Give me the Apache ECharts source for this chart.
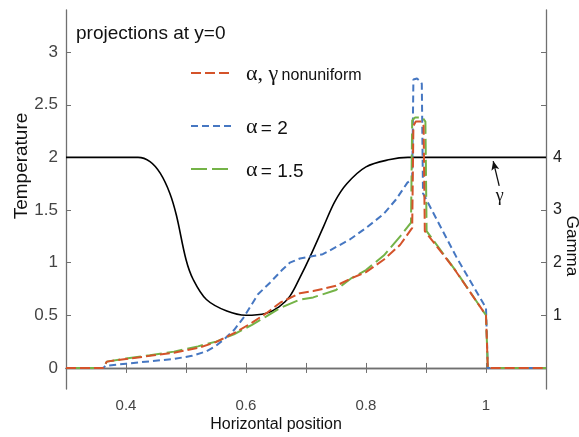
<!DOCTYPE html>
<html>
<head>
<meta charset="utf-8">
<script src="https://cdn.jsdelivr.net/npm/echarts@6/dist/echarts.min.js"></script>
<style>html,body{margin:0;padding:0;background:#fff}#c{width:579px;height:437px}</style>
</head>
<body>
<div id="c"></div>
<script>
// ---- data ----
const xTickValues = [0.4, 0.5, 0.6, 0.7, 0.8, 0.9, 1.0];
const xLabelValues = [0.4, 0.6, 0.8, 1.0];
const tTickValues = [0, 0.5, 1, 1.5, 2, 2.5, 3];
const gammaTickValues = [0, 1, 2, 3, 4, 5, 6];
const gammaLabelValues = [1, 2, 3, 4];

const seriesNames = ['α, γ nonuniform', 'α = 2', 'α = 1.5', 'γ'];

const xRed = [0.30, 0.362, 0.368, 0.40, 0.44, 0.48, 0.52, 0.55, 0.58, 0.61, 0.634, 0.657, 0.69, 0.712, 0.75, 0.775, 0.80, 0.83, 0.857, 0.877, 0.879, 0.883, 0.893, 0.896, 0.898, 0.946, 1.0, 1.003, 1.1];
const tRed = [0, 0, 0.06, 0.085, 0.115, 0.145, 0.19, 0.245, 0.33, 0.43, 0.52, 0.62, 0.71, 0.73, 0.78, 0.85, 0.91, 1.03, 1.17, 1.33, 2.30, 2.34, 2.34, 2.30, 1.30, 0.95, 0.50, 0, 0];

const xGreen = [0.30, 0.362, 0.368, 0.40, 0.44, 0.48, 0.52, 0.55, 0.58, 0.61, 0.634, 0.657, 0.69, 0.712, 0.75, 0.775, 0.80, 0.83, 0.857, 0.875, 0.877, 0.882, 0.894, 0.899, 0.901, 0.95, 1.0, 1.003, 1.1];
const tGreen = [0, 0, 0.06, 0.09, 0.12, 0.155, 0.205, 0.25, 0.32, 0.41, 0.49, 0.57, 0.65, 0.67, 0.74, 0.85, 0.93, 1.07, 1.25, 1.38, 2.35, 2.38, 2.38, 2.34, 1.30, 0.92, 0.50, 0, 0];

const xBlue = [0.30, 0.362, 0.366, 0.40, 0.44, 0.48, 0.51, 0.534, 0.55, 0.565, 0.58, 0.595, 0.607, 0.62, 0.64, 0.66, 0.673, 0.69, 0.728, 0.773, 0.80, 0.829, 0.85, 0.869, 0.877, 0.879, 0.885, 0.891, 0.893, 0.895, 0.917, 0.951, 1.0, 1.003, 1.1];
const tBlue = [0, 0, 0.02, 0.04, 0.063, 0.085, 0.115, 0.158, 0.21, 0.28, 0.36, 0.47, 0.58, 0.70, 0.81, 0.93, 1.0, 1.04, 1.08, 1.22, 1.33, 1.46, 1.60, 1.76, 1.79, 2.74, 2.75, 2.72, 2.70, 1.66, 1.42, 1.05, 0.57, 0, 0];

const xGamma = [0.30, 0.42, 0.44, 0.457, 0.473, 0.484, 0.50, 0.512, 0.534, 0.568, 0.60, 0.634, 0.655, 0.673, 0.69, 0.707, 0.729, 0.748, 0.768, 0.80, 0.84, 0.87, 1.1];
const gammaVals = [4.0, 4.0, 3.92, 3.7, 3.32, 2.9, 2.06, 1.68, 1.3, 1.08, 1.0, 1.04, 1.16, 1.36, 1.72, 2.12, 2.68, 3.16, 3.5, 3.82, 3.96, 4.0, 4.0];

// annotation arrow (data coordinates on gamma axis)
const arrowFrom = [1.022, 3.46];
const arrowTo = [1.012, 3.93];

const zip = (xs, ys) => xs.map((x, i) => [x, ys[i]]);

const axisColor = '#707070';
const labelColor = '#444';
const font = 'Liberation Sans, Arial, Helvetica, sans-serif';

const chart = echarts.init(document.getElementById('c'), null, {renderer: 'canvas'});

function legendFor(name, top) {
  return {
    data: [name], left: 185, top: top, itemWidth: 40, itemHeight: 14,
    selectedMode: false,
    itemStyle: {opacity: 0, borderWidth: 0},
    textStyle: {
      padding: [0, 0, 0, 10],
      rich: {
        g: {fontFamily: 'Liberation Serif, DejaVu Serif, serif', fontSize: 22, color: '#111', lineHeight: 24, verticalAlign: 'bottom'},
        s: {fontFamily: font, fontSize: 16, color: '#111', lineHeight: 24, verticalAlign: 'bottom', padding: [0, 0, 1, 0]},
        m: {fontFamily: font, fontSize: 19, color: '#111', lineHeight: 24, verticalAlign: 'bottom'}
      }
    },
    formatter: function (n) {
      if (n === seriesNames[0]) return '{g|α, γ} {s|nonuniform}';
      if (n === seriesNames[1]) return '{g|α} {m|= 2}';
      return '{g|α} {m|= 1.5}';
    }
  };
}

const option = {
  animation: false,
  backgroundColor: '#fff',
  grid: {left: 66, right: 33, top: 10, bottom: 48, containLabel: false},
  legend: [legendFor(seriesNames[0], 58), legendFor(seriesNames[1], 111), legendFor(seriesNames[2], 154)],
  xAxis: [{
    type: 'value', min: 0.3, max: 1.1, position: 'bottom',
    axisLine: {show: true, lineStyle: {color: axisColor, width: 1.3}},
    axisTick: {show: true, inside: true, length: 5, customValues: xTickValues, lineStyle: {color: axisColor}},
    axisLabel: {show: true, customValues: xLabelValues, margin: 9, color: labelColor, fontSize: 15, fontFamily: font,
      formatter: v => String(Math.round(v * 10) / 10)},
    splitLine: {show: false}
  }, {
    type: 'value', min: 0.3, max: 1.1, position: 'top',
    axisLine: {show: true, lineStyle: {color: axisColor, width: 1.3}},
    axisTick: {show: true, inside: true, length: 5, customValues: xTickValues, lineStyle: {color: axisColor}},
    axisLabel: {show: false},
    splitLine: {show: false}
  }],
  yAxis: [{
    type: 'value', min: -0.2, max: 3.4, position: 'left',
    axisLine: {show: true, lineStyle: {color: axisColor, width: 1.3}},
    axisTick: {show: true, inside: true, length: 5, customValues: tTickValues, lineStyle: {color: axisColor}},
    axisLabel: {show: true, customValues: tTickValues, margin: 8, color: labelColor, fontSize: 17, fontFamily: font,
      formatter: v => String(Math.round(v * 10) / 10)},
    splitLine: {show: false}
  }, {
    type: 'value', min: -0.4, max: 6.8, position: 'right',
    axisLine: {show: true, lineStyle: {color: axisColor, width: 1.3}},
    axisTick: {show: true, inside: true, length: 5, customValues: gammaTickValues, lineStyle: {color: axisColor}},
    axisLabel: {show: true, customValues: gammaLabelValues, margin: 7, color: '#222', fontSize: 16, fontFamily: font,
      formatter: v => String(Math.round(v))},
    splitLine: {show: false}
  }],
  series: [{
    name: seriesNames[3], type: 'line', xAxisIndex: 0, yAxisIndex: 1, data: zip(xGamma, gammaVals),
    smooth: 0.35, symbol: 'none', lineStyle: {color: '#000', width: 1.6}, z: 2,
    markLine: {
      silent: true, symbol: ['none', 'arrow'], symbolSize: [6, 9],
      lineStyle: {color: '#111', width: 1.3, type: 'solid'},
      label: {show: true, position: 'start', formatter: 'γ', color: '#111', fontSize: 18,
        fontFamily: 'Liberation Serif, DejaVu Serif, serif', distance: 2},
      data: [[{coord: arrowFrom}, {coord: arrowTo}]]
    }
  }, {
    name: seriesNames[1], type: 'line', xAxisIndex: 0, yAxisIndex: 0, data: zip(xBlue, tBlue),
    symbol: 'none', itemStyle: {color: '#4677c2'}, lineStyle: {color: '#4677c2', width: 2, type: [7, 4]}, z: 3
  }, {
    name: seriesNames[2], type: 'line', xAxisIndex: 0, yAxisIndex: 0, data: zip(xGreen, tGreen),
    symbol: 'none', itemStyle: {color: '#74b347'}, lineStyle: {color: '#74b347', width: 2, type: [16, 5]}, z: 4
  }, {
    name: seriesNames[0], type: 'line', xAxisIndex: 0, yAxisIndex: 0, data: zip(xRed, tRed),
    symbol: 'none', itemStyle: {color: '#d4532a'}, lineStyle: {color: '#d4532a', width: 2, type: [10, 4]}, z: 5
  }],
  graphic: [
    {type: 'text', left: 76, top: 24, style: {text: 'projections at y=0', fontSize: 19, fontFamily: font, fill: '#111'}},
    {type: 'text', x: 22, y: 166, rotation: Math.PI / 2,
      style: {text: 'Temperature', fontSize: 19, fontFamily: font, fill: '#111', align: 'center', verticalAlign: 'middle'}},
    {type: 'text', x: 572, y: 246, rotation: -Math.PI / 2,
      style: {text: 'Gamma', fontSize: 17, fontFamily: font, fill: '#111', align: 'center', verticalAlign: 'middle'}},
    {type: 'text', x: 276, y: 425,
      style: {text: 'Horizontal position', fontSize: 16, fontFamily: font, fill: '#111', align: 'center', verticalAlign: 'middle'}}
  ]
};
chart.setOption(option);
</script>
</body>
</html>
